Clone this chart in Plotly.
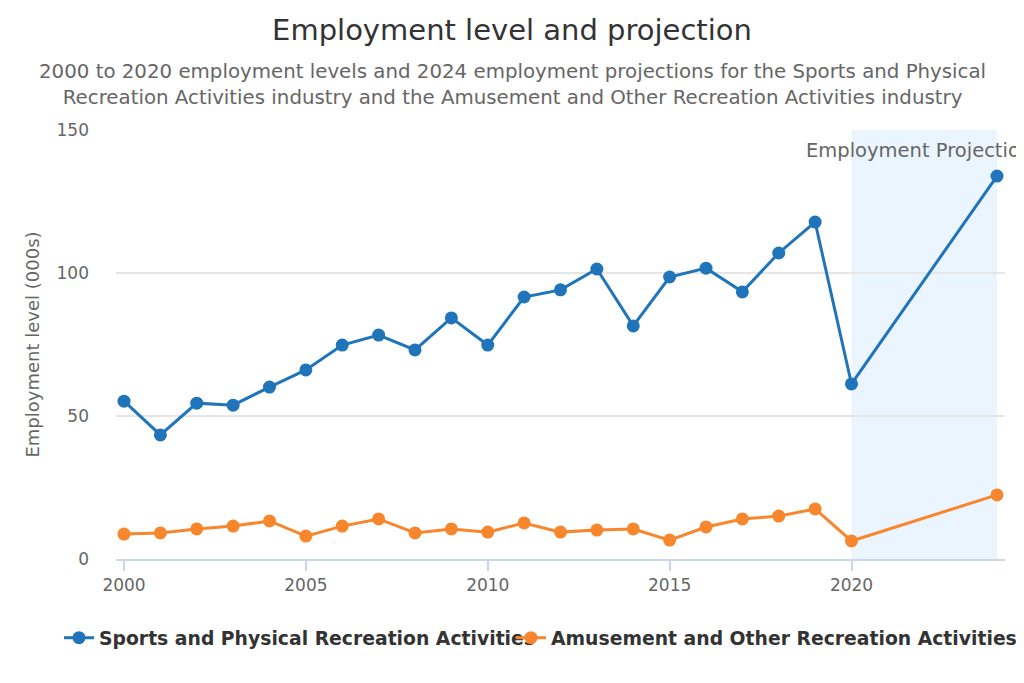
import plotly.graph_objects as go

years = [2000, 2001, 2002, 2003, 2004, 2005, 2006, 2007, 2008, 2009, 2010,
         2011, 2012, 2013, 2014, 2015, 2016, 2017, 2018, 2019, 2020, 2024]
sports = [55.2, 43.4, 54.5, 53.8, 60.1, 66.1, 74.8, 78.3, 73.1, 84.3, 74.8,
          91.6, 94.1, 101.4, 81.5, 98.6, 101.7, 93.4, 107.0, 117.8, 61.2, 133.9]
amusement = [8.7, 9.1, 10.5, 11.5, 13.3, 8.0, 11.5, 14.0, 9.1, 10.5, 9.4,
             12.6, 9.4, 10.1, 10.5, 6.6, 11.2, 14.0, 15.0, 17.5, 6.3, 22.4]
series_names = ["Sports and Physical Recreation Activities",
                "Amusement and Other Recreation Activities"]
band_start, band_end = 2020, 2024
band_label = "Employment Projections"

FONT = "DejaVu Sans"
blue = "#1f74ba"
orange = "#f7862c"

# page body has an 8px margin, so the figure is sized to fit the 1024x683 window
W, H = 1008, 667
PL, PR, PT, PB = 108, 997, 122, 551

fig = go.Figure()
fig.add_trace(go.Scatter(x=years, y=sports, mode="lines+markers", name=series_names[0],
                         line=dict(color=blue, width=3), marker=dict(size=13, color=blue),
                         legend="legend"))
fig.add_trace(go.Scatter(x=years, y=amusement, mode="lines+markers", name=series_names[1],
                         line=dict(color=orange, width=3), marker=dict(size=13, color=orange),
                         legend="legend2"))

fig.add_vrect(x0=band_start, x1=band_end, fillcolor="#ebf5ff", line_width=0, layer="below")
fig.add_annotation(x=(band_start + band_end) / 2, xref="x", y=1, yref="paper", yanchor="top",
                   yshift=-7, text=band_label, showarrow=False,
                   font=dict(family=FONT, size=19.5, color="#666666"))

fig.add_annotation(
    text="2000 to 2020 employment levels and 2024 employment projections for the Sports and Physical<br>"
         "Recreation Activities industry and the Amusement and Other Recreation Activities industry",
    xref="paper", yref="paper", x=(W / 2 - PL) / (PR - PL), y=1 + (PT - 77) / (PB - PT),
    xanchor="center", yanchor="middle", showarrow=False, align="center",
    font=dict(family=FONT, size=19.8, color="#666666"))

legend_common = dict(orientation="h", xanchor="left", xref="container",
                     y=1 - 630 / H, yref="container", yanchor="middle",
                     bgcolor="rgba(0,0,0,0)",
                     font=dict(family=FONT, size=18.8, color="#333333", weight="bold"),
                     itemwidth=30)

fig.update_layout(
    width=W, height=H,
    paper_bgcolor="white", plot_bgcolor="white",
    margin=dict(l=PL, r=W - PR, t=PT, b=H - PB),
    font=dict(family=FONT, color="#666666"),
    title=dict(text="Employment level and projection", x=0.5, xanchor="center",
               y=1 - 22 / H, yref="container", yanchor="middle",
               font=dict(family=FONT, size=29, color="#333333")),
    showlegend=True,
    legend=dict(x=51 / W, **legend_common),
    legend2=dict(x=503 / W, **legend_common),
    xaxis=dict(range=[1999.78, 2024.22], tickvals=[2000, 2005, 2010, 2015, 2020],
               showgrid=False, zeroline=False, showline=True, linecolor="#ccd6eb", linewidth=1.5,
               ticks="outside", ticklen=10, tickcolor="#ccd6eb", tickwidth=1.5,
               tickfont=dict(family=FONT, size=17, color="#666666")),
    yaxis=dict(range=[0, 150], tickvals=[0, 50, 100, 150], showgrid=True, gridcolor="#e6e6e6",
               gridwidth=1.5, zeroline=False, showline=False, ticklabelstandoff=26,
               tickfont=dict(family=FONT, size=17, color="#666666"),
               title=dict(text="Employment level (000s)", standoff=12,
                          font=dict(family=FONT, size=18, color="#666666"))),
)

fig.write_html("out.html")
